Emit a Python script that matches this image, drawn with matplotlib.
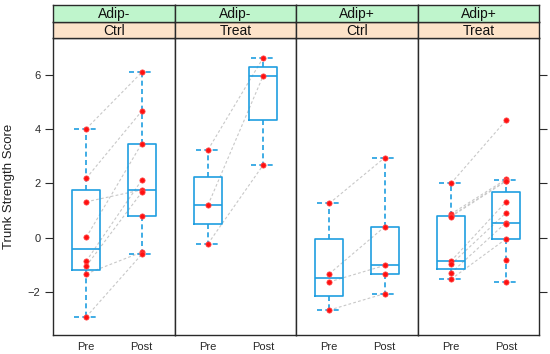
import matplotlib
matplotlib.use("Agg")
import matplotlib.pyplot as plt

plt.rcParams['font.family'] = ['Liberation Sans', 'DejaVu Sans']

# panel labels (outer factor on top, inner factor below)
adip = ['Adip-', 'Adip-', 'Adip+', 'Adip+']
group = ['Ctrl', 'Treat', 'Ctrl', 'Treat']
times = ['Pre', 'Post']

# individual scores
pre_pts = [
    [4.02, 2.19, 1.32, 0.01, -0.87, -1.05, -1.34, -2.93],
    [3.24, 1.20, -0.23],
    [1.26, -1.34, -1.64, -2.68],
    [2.00, 0.87, 0.80, 0.77, -0.87, -0.99, -1.31, -1.54],
]
post_pts = [
    [6.10, 4.67, 3.47, 2.12, 1.76, 1.67, 0.78, -0.54, -0.62],
    [6.63, 5.96, 2.67],
    [2.95, 0.40, -1.03, -1.36, -2.07],
    [4.33, 2.15, 2.10, 2.08, 1.32, 0.91, 0.55, 0.50, -0.05, -0.82, -1.65],
]

# pre -> post links (same subject)
links = [
    [(4.02, 6.10), (2.19, 4.67), (1.32, 1.76), (0.01, 3.47),
     (-0.87, 2.12), (-1.05, 1.67), (-1.34, -0.54), (-2.93, -0.62)],
    [(3.24, 6.63), (1.20, 5.96), (-0.23, 2.67)],
    [(1.26, 2.95), (-1.34, 0.40), (-1.64, -1.03), (-2.68, -2.07)],
    [(2.00, 4.33), (0.87, 2.15), (0.80, 2.10), (0.77, 2.08),
     (-0.87, 1.32), (-0.99, 0.91), (-1.31, 0.55), (-1.54, -0.05)],
]

# box stats: whislo, q1, median, q3, whishi
pre_box = [
    [-2.93, -1.20, -0.43, 1.76, 4.02],
    [-0.23, 0.49, 1.20, 2.22, 3.24],
    [-2.68, -2.16, -1.49, -0.04, 1.26],
    [-1.54, -1.18, -0.88, 0.80, 2.00],
]
post_box = [
    [-0.62, 0.78, 1.76, 3.47, 6.10],
    [2.67, 4.33, 5.96, 6.30, 6.63],
    [-2.07, -1.36, -1.03, 0.40, 2.95],
    [-1.65, -0.05, 0.54, 1.67, 2.12],
]

W, H = 550, 354
edges = [53, 175, 296, 418, 539]
top, bottom = 38, 335
box_col = '#1f9ee0'
frame_col = '#2a2a2a'


def stats(v):
    return dict(whislo=v[0], q1=v[1], med=v[2], q3=v[3], whishi=v[4], fliers=[])


fig = plt.figure(figsize=(W / 100, H / 100), dpi=100)

for i in range(4):
    x0, x1 = edges[i], edges[i + 1]
    ax = fig.add_axes([x0 / W, 1 - bottom / H, (x1 - x0) / W, (bottom - top) / H])

    for a, b in links[i]:
        ax.plot([1, 2], [a, b], color='#c8c8c8', lw=0.8, ls=(0, (2.5, 2)), zorder=1)

    ax.bxp([stats(pre_box[i]), stats(post_box[i])], positions=[1, 2],
           widths=0.5, capwidths=0.45, showfliers=False,
           boxprops=dict(color=box_col, lw=1.2),
           medianprops=dict(color=box_col, lw=1.2),
           whiskerprops=dict(color=box_col, lw=1.2, ls=(0, (3, 2))),
           capprops=dict(color=box_col, lw=1.2, ls=(0, (3, 2))))

    ax.plot([1] * len(pre_pts[i]), pre_pts[i], 'o', color='#ff1010',
            ms=3.8, mec='#ff5050', mew=0.5, zorder=5)
    ax.plot([2] * len(post_pts[i]), post_pts[i], 'o', color='#ff1010',
            ms=3.8, mec='#ff5050', mew=0.5, zorder=5)

    ax.set_xlim(0.4, 2.6)
    ax.set_ylim(-3.6, 7.37)
    ax.set_xticks([1, 2])
    ax.set_xticklabels(times)
    ax.tick_params(axis='x', length=0, pad=5, labelsize=8, colors=frame_col)
    ax.set_yticks([-2, 0, 2, 4, 6])
    if i == 0:
        ax.tick_params(axis='y', length=6, width=0.8, pad=3, labelsize=8,
                       colors=frame_col)
    elif i == 3:
        ax.tick_params(axis='y', left=False, labelleft=False, right=True,
                       length=6, width=0.8, colors=frame_col)
    else:
        ax.tick_params(axis='y', left=False, labelleft=False)
    for s in ax.spines.values():
        s.set_color(frame_col)
        s.set_linewidth(1.0)

    # strips
    for (y0, y1, col, txt) in [(22, 38, '#fde3c9', group[i]),
                               (5, 22, '#bff5cc', adip[i])]:
        sax = fig.add_axes([x0 / W, 1 - y1 / H, (x1 - x0) / W, (y1 - y0) / H])
        sax.set_facecolor(col)
        sax.set_xticks([])
        sax.set_yticks([])
        for s in sax.spines.values():
            s.set_color(frame_col)
            s.set_linewidth(1.0)
        sax.text(0.5, 0.45, txt, ha='center', va='center', fontsize=10,
                 color='#111111', transform=sax.transAxes)

fig.text(9 / W, 1 - 186 / H, 'Trunk Strength Score', rotation=90,
         ha='center', va='center', fontsize=9.5, color='#222222')

fig.savefig('out.png', dpi=100)
